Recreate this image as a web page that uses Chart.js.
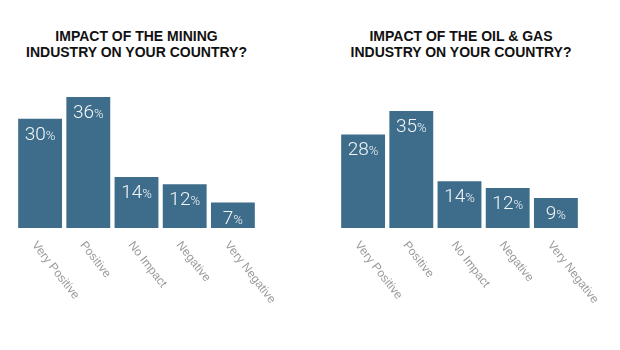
<!DOCTYPE html>
<html>
<head>
<meta charset="utf-8">
<script src="https://cdn.jsdelivr.net/npm/chart.js@4.4.0/dist/chart.umd.min.js"></script>
<style>
  body { margin: 0; background: #fff; }
  .panel { position: absolute; top: 0; width: 310px; height: 350px; }
  .title { position: absolute; top: 28px; left: 0; width: 100%; text-align: center;
    font: bold 14px "Liberation Sans", Arial, sans-serif; line-height: 16px; color: #111; }
  canvas { position: absolute; top: 0; left: 0; }
</style>
</head>
<body>
<div class="panel" style="left:0">
  <div class="title" style="width:273px">IMPACT OF THE MINING<br>INDUSTRY ON YOUR COUNTRY?</div>
  <canvas id="mining" width="310" height="350"></canvas>
</div>
<div class="panel" style="left:323px">
  <div class="title" style="width:276px">IMPACT OF THE OIL &amp; GAS<br>INDUSTRY ON YOUR COUNTRY?</div>
  <canvas id="oilgas" width="310" height="350"></canvas>
</div>
<script>
var categories = ['Very Positive', 'Positive', 'No Impact', 'Negative', 'Very Negative'];
var miningValues = [30, 36, 14, 12, 7];
var oilGasValues = [28, 35, 14, 12, 9];

var barColor = '#3d6d8b';

// draws the "30%" labels inside the bars and the slanted category names
var labelPlugin = {
  id: 'labels',
  afterDatasetsDraw: function (chart) {
    var ctx = chart.ctx;
    var meta = chart.getDatasetMeta(0);
    var values = chart.data.datasets[0].data;
    ctx.save();
    meta.data.forEach(function (bar, i) {
      var num = String(values[i]);
      ctx.font = '300 19px Roboto, "Liberation Sans", sans-serif';
      var w1 = ctx.measureText(num).width;
      ctx.font = '300 13px Roboto, "Liberation Sans", sans-serif';
      var w2 = ctx.measureText('%').width;
      var x0 = bar.x - (w1 + w2) / 2;
      var y0 = bar.y + 21;
      ctx.fillStyle = '#f4f7f9';
      ctx.textBaseline = 'alphabetic';
      ctx.textAlign = 'left';
      ctx.font = '300 19px Roboto, "Liberation Sans", sans-serif';
      ctx.fillText(num, x0, y0);
      ctx.font = '300 13px Roboto, "Liberation Sans", sans-serif';
      ctx.fillText('%', x0 + w1, y0);
    });

    var xScale = chart.scales.x;
    var bottom = chart.chartArea.bottom;
    ctx.fillStyle = '#9a9a9a';
    ctx.font = '12px "Liberation Sans Narrow", "Liberation Sans", sans-serif';
    ctx.textAlign = 'left';
    ctx.textBaseline = 'middle';
    categories.forEach(function (c, i) {
      var x = xScale.getPixelForValue(i);
      ctx.save();
      ctx.translate(x - 6, bottom + 15);
      ctx.rotate(52 * Math.PI / 180);
      ctx.fillText(c, 0, 0);
      ctx.restore();
    });
    ctx.restore();
  }
};

function makeChart(id, values, yMax, padTop) {
  return new Chart(document.getElementById(id), {
    type: 'bar',
    data: {
      labels: categories,
      datasets: [{
        data: values,
        backgroundColor: barColor,
        borderWidth: 0,
        barPercentage: 0.91,
        categoryPercentage: 1
      }]
    },
    options: {
      responsive: false,
      animation: false,
      layout: { padding: { left: 16, right: 53, top: padTop, bottom: 122 } },
      plugins: { legend: { display: false }, tooltip: { enabled: false } },
      scales: {
        x: { display: false },
        y: { display: false, min: 0, max: yMax }
      }
    },
    plugins: [labelPlugin]
  });
}

makeChart('mining', miningValues, 36, 97);
makeChart('oilgas', oilGasValues, 35, 111);
</script>
</body>
</html>
